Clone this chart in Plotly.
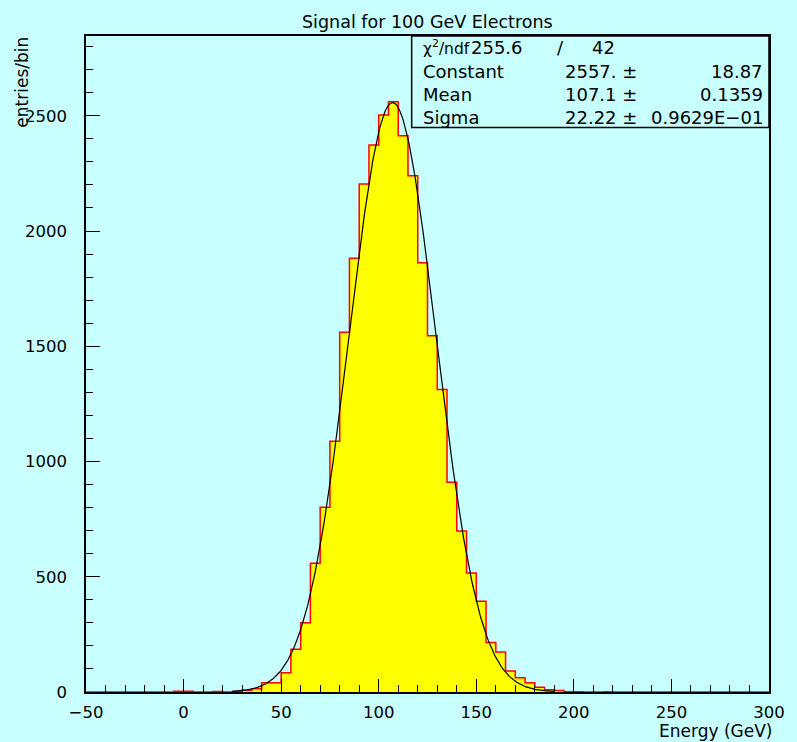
import numpy as np
import plotly.graph_objects as go

# ---------------- data ----------------
bin_lo, bin_hi, bin_w = -50, 300, 5
# counts per 5 GeV bin, keyed by bin lower edge
counts = {
    -5: 3, 0: 3, 15: 2, 25: 2, 30: 8, 35: 14,
    40: 40, 45: 40, 50: 84, 55: 186, 60: 300, 65: 559, 70: 802, 75: 1088,
    80: 1561, 85: 1882, 90: 2204, 95: 2373, 100: 2503, 105: 2561,
    110: 2413, 115: 2240, 120: 1862, 125: 1546, 130: 1312, 135: 910,
    140: 699, 145: 516, 150: 394, 155: 215, 160: 173, 165: 91, 170: 62,
    175: 40, 180: 21, 185: 10, 190: 7, 195: 1, 200: 1, 215: 1,
}
fit_const, fit_mean, fit_sigma = 2557.0, 107.1, 22.22
fit_range = (25, 190)
stats_labels = ["Constant", "Mean", "Sigma"]
stats_values = ["2557. \u00b1", "107.1 \u00b1", "22.22 \u00b1"]
stats_errors = ["18.87", "0.1359", "0.9629E\u221201"]
chi2_text, ndf_text = "255.6", "42"
y_ticks = [0, 500, 1000, 1500, 2000, 2500]
x_ticks = [-50, 0, 50, 100, 150, 200, 250, 300]

# ---------------- build ----------------
edges = np.arange(bin_lo, bin_hi + bin_w, bin_w)
vals = [counts.get(int(e), 0) for e in edges[:-1]]
step_y = vals + [vals[-1]]

xf = np.linspace(fit_range[0], fit_range[1], 400)
yf = fit_const * np.exp(-0.5 * ((xf - fit_mean) / fit_sigma) ** 2)

BG = "#C8FFFF"
FONT = "DejaVu Sans"

fig = go.Figure()
fig.add_trace(go.Scatter(x=edges, y=step_y, mode="lines", line_shape="hv",
                         line=dict(color="#FF0000", width=1.5),
                         fill="tozeroy", fillcolor="#FFFF00", hoverinfo="skip",
                         showlegend=False))
fig.add_trace(go.Scatter(x=xf, y=yf, mode="lines",
                         line=dict(color="black", width=1.2), showlegend=False))

L, R, T, B = 85.5, 775.5, 35.5, 691.6
W, H = 797, 742
pw, ph = R - L, B - T


def px(x):
    return (x - L) / pw


def py(y):
    return (B - y) / ph


fig.update_layout(
    width=W, height=H,
    margin=dict(l=L, r=W - R, t=T, b=H - B, pad=0),
    paper_bgcolor=BG, plot_bgcolor=BG,
    font=dict(family=FONT, size=16, color="black"),
    showlegend=False,
)
fig.update_xaxes(range=[bin_lo, bin_hi], tickvals=x_ticks, ticks="inside",
                 ticklen=13, tickwidth=1.2, tickcolor="black",
                 minor=dict(dtick=10, ticks="inside", ticklen=7, tickwidth=1.2,
                            tickcolor="black", tick0=0),
                 showgrid=False, zeroline=False, showline=True, linecolor="black",
                 linewidth=1.5, mirror=True, ticklabelstandoff=4,
                 tickfont=dict(family=FONT, size=16.5))
fig.update_yaxes(range=[0, 2846], tickvals=y_ticks, ticks="inside",
                 ticklen=14, tickwidth=1.2, tickcolor="black",
                 minor=dict(dtick=100, ticks="inside", ticklen=7, tickwidth=1.2,
                            tickcolor="black", tick0=0),
                 showgrid=False, zeroline=False, showline=True, linecolor="black",
                 linewidth=1.5, mirror=True, ticklabelstandoff=14,
                 tickfont=dict(family=FONT, size=16.5))

anns = []
anns.append(dict(text="Signal for 100 GeV Electrons", x=px(430.5), y=py(21),
                 xref="paper", yref="paper", showarrow=False, xanchor="center",
                 yanchor="middle", font=dict(size=17.5)))
anns.append(dict(text="Energy (GeV)", x=px(781), y=py(731), xref="paper", yref="paper",
                 showarrow=False, xanchor="right", yanchor="middle", font=dict(size=17)))
anns.append(dict(text="entries/bin", x=px(21), y=py(82), xref="paper", yref="paper",
                 showarrow=False, xanchor="center", yanchor="middle", textangle=-90,
                 font=dict(size=17)))

# stats box
fig.add_shape(type="rect", xref="paper", yref="paper", x0=px(414.5), x1=1,
              y0=py(127), y1=1, line=dict(color="black", width=1.5), layer="above")
rows_y = [47, 71, 94, 117]
sf = dict(size=18)
anns.append(dict(text="\u03c7<sup>2</sup>/ndf", x=px(424), y=py(rows_y[0]), xref="paper",
                 yref="paper", showarrow=False, xanchor="left", yanchor="middle",
                 font=dict(size=15.5)))
anns.append(dict(text=chi2_text, x=px(472), y=py(rows_y[0]), xref="paper",
                 yref="paper", showarrow=False, xanchor="left", yanchor="middle", font=sf))
anns.append(dict(text="/", x=px(565), y=py(rows_y[0]), xref="paper",
                 yref="paper", showarrow=False, xanchor="center", yanchor="middle", font=sf))
anns.append(dict(text=ndf_text, x=px(622), y=py(rows_y[0]), xref="paper",
                 yref="paper", showarrow=False, xanchor="right", yanchor="middle", font=sf))
for i in range(3):
    yy = py(rows_y[i + 1])
    anns.append(dict(text=stats_labels[i], x=px(424), y=yy, xref="paper", yref="paper",
                     showarrow=False, xanchor="left", yanchor="middle", font=sf))
    anns.append(dict(text=stats_values[i], x=px(644), y=yy, xref="paper", yref="paper",
                     showarrow=False, xanchor="right", yanchor="middle", font=sf))
    anns.append(dict(text=stats_errors[i], x=px(771), y=yy, xref="paper", yref="paper",
                     showarrow=False, xanchor="right", yanchor="middle", font=sf))

fig.update_layout(annotations=anns)
fig.write_html("out.html")
